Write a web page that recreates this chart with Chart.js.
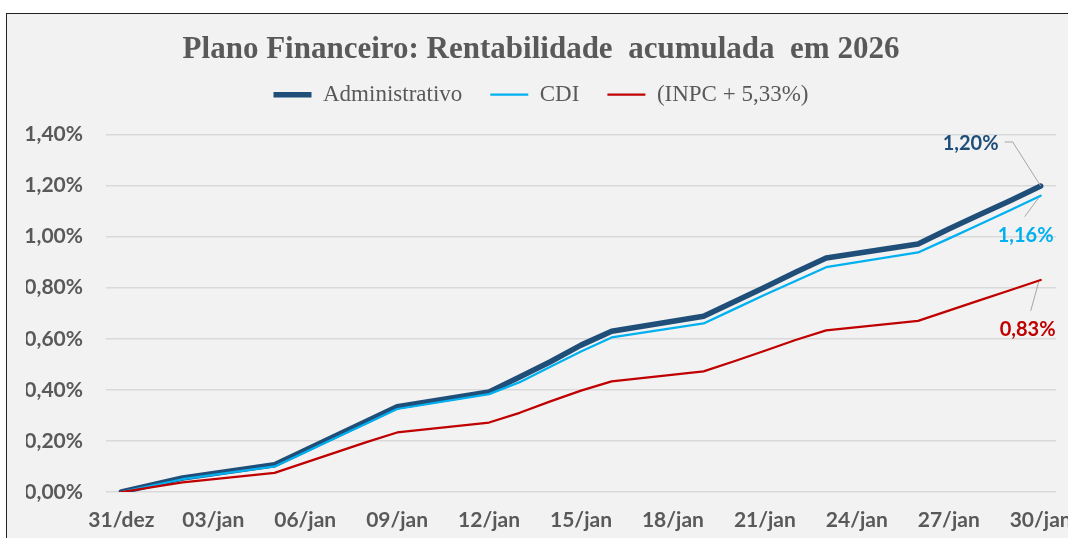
<!DOCTYPE html>
<html>
<head>
<meta charset="utf-8">
<script src="https://cdn.jsdelivr.net/npm/chart.js@4"></script>
<style>
  html, body { margin: 0; padding: 0; background: #fff; overflow: hidden; }
  #box {
    position: absolute; left: 6px; top: 13px;
    width: 1090px; height: 530px;
    border-left: 1px solid #222; border-top: 1px solid #222;
    background: #f2f2f2;
  }
</style>
</head>
<body>
<div id="box"><canvas id="chart"></canvas></div>
<script>
// dias corridos; fins de semana e feriado ficam null
const days = ['31/dez', '01/jan', '02/jan', '03/jan', '04/jan', '05/jan', '06/jan', '07/jan', '08/jan', '09/jan',
    '10/jan', '11/jan', '12/jan', '13/jan', '14/jan', '15/jan', '16/jan', '17/jan', '18/jan', '19/jan', '20/jan',
    '21/jan', '22/jan', '23/jan', '24/jan', '25/jan', '26/jan', '27/jan', '28/jan', '29/jan', '30/jan'];

const administrativo = [0, null, 0.055, null, null, 0.107, 0.163, 0.220, 0.277, 0.334, null, null, 0.392, 0.450,
    0.510, 0.575, 0.629, null, null, 0.688, 0.745, 0.802, 0.860, 0.916, null, null, 0.971, 1.030, 1.085, 1.140, 1.198];
const cdi = [0, null, 0.050, null, null, 0.100, 0.156, 0.212, 0.268, 0.325, null, null, 0.383, 0.430,
    0.490, 0.550, 0.605, null, null, 0.660, 0.716, 0.772, 0.826, 0.880, null, null, 0.938, 0.992, 1.047, 1.103, 1.160];
const inpc = [0, null, 0.038, null, null, 0.075, 0.115, 0.155, 0.195, 0.233, null, null, 0.272, 0.310,
    0.355, 0.397, 0.433, null, null, 0.472, 0.512, 0.553, 0.595, 0.633, null, null, 0.670, 0.710, 0.750, 0.790, 0.830];

const yTicks = [0, 0.2, 0.4, 0.6, 0.8, 1.0, 1.2, 1.4];

const gray = '#595959';
const tickFont = { family: 'Lato', size: 21, weight: 'bold' };

function pct(v) {
    return v.toFixed(2).replace('.', ',') + '%';
}

// rótulos do último ponto com linha de chamada
const endLabels = {
    id: 'endLabels',
    afterDatasetsDraw(chart) {
        const ctx = chart.ctx;
        const spots = [
            { ds: 0, lx: -70, ly: -42, path: [[-36, -44], [-28, -44], [0, 0]] },
            { ds: 1, lx: -15, ly: 40, path: [[-2, 2], [-16, 21]] },
            { ds: 2, lx: -13, ly: 50, path: [[-2, 2], [-10, 31]] }
        ];
        ctx.save();
        spots.forEach(function (s) {
            const dataset = chart.data.datasets[s.ds];
            const last = dataset.data.length - 1;
            const x = chart.scales.x.getPixelForValue(last);
            const y = chart.scales.y.getPixelForValue(dataset.data[last]);
            ctx.strokeStyle = '#a6a6a6';
            ctx.lineWidth = 1;
            ctx.beginPath();
            ctx.moveTo(x + s.path[0][0], y + s.path[0][1]);
            for (let i = 1; i < s.path.length; i++) {
                ctx.lineTo(x + s.path[i][0], y + s.path[i][1]);
            }
            ctx.stroke();
            ctx.fillStyle = dataset.borderColor;
            ctx.font = 'bold 20px Lato';
            ctx.textAlign = 'center';
            ctx.textBaseline = 'middle';
            ctx.fillText(pct(dataset.data[last]), x + s.lx, y + s.ly);
        });
        ctx.restore();
    }
};

const chart = new Chart(document.getElementById('chart'), {
    type: 'line',
    data: {
        labels: days,
        datasets: [
            { label: 'Administrativo', data: administrativo, borderColor: '#1f4e79', borderWidth: 5.5, order: 3 },
            { label: 'CDI', data: cdi, borderColor: '#00b0f0', borderWidth: 2.25, order: 2 },
            { label: '(INPC + 5,33%)', data: inpc, borderColor: '#c00000', borderWidth: 2.25, order: 1 }
        ]
    },
    options: {
        responsive: true,
        maintainAspectRatio: false,
        animation: false,
        spanGaps: true,
        elements: {
            point: { radius: 0, hoverRadius: 0 },
            line: { tension: 0, borderJoinStyle: 'round', borderCapStyle: 'round' }
        },
        layout: { padding: { left: 19, right: 41, top: 0, bottom: 8 } },
        scales: {
            x: {
                offset: true,
                grid: { display: false, drawTicks: false },
                border: { display: false },
                afterFit: function (s) { s.height = 44; },
                ticks: {
                    autoSkip: false,
                    maxRotation: 0,
                    padding: 16,
                    color: gray,
                    font: tickFont,
                    callback: function (v, i) { return i % 3 === 0 ? days[i] : ''; }
                }
            },
            y: {
                min: 0,
                max: 1.4,
                afterFit: function (s) { s.width = 80; },
                afterBuildTicks: function (s) { s.ticks = yTicks.map(v => ({ value: v })); },
                grid: { color: '#d9d9d9', lineWidth: 1.5, drawTicks: false },
                border: { display: false },
                ticks: {
                    padding: 23,
                    color: gray,
                    font: tickFont,
                    callback: function (v) { return pct(v); }
                }
            }
        },
        plugins: {
            title: {
                display: true,
                text: 'Plano Financeiro: Rentabilidade  acumulada  em 2026',
                color: gray,
                font: { family: 'Liberation Serif', size: 31, weight: 'bold' },
                padding: { top: 17, bottom: -13 }
            },
            // espaço vazio entre a legenda e a área do gráfico
            subtitle: {
                display: true,
                text: ' ',
                weight: 500,
                font: { size: 1 },
                padding: { top: 0, bottom: 17 }
            },
            legend: {
                labels: {
                    usePointStyle: true,
                    pointStyleWidth: 38,
                    pointStyle: 'line',
                    color: gray,
                    padding: 28,
                    font: { family: 'Liberation Serif', size: 23 },
                    sort: function (a, b) { return a.datasetIndex - b.datasetIndex; }
                }
            },
            tooltip: { enabled: false }
        }
    },
    plugins: [endLabels]
});
</script>
</body>
</html>
